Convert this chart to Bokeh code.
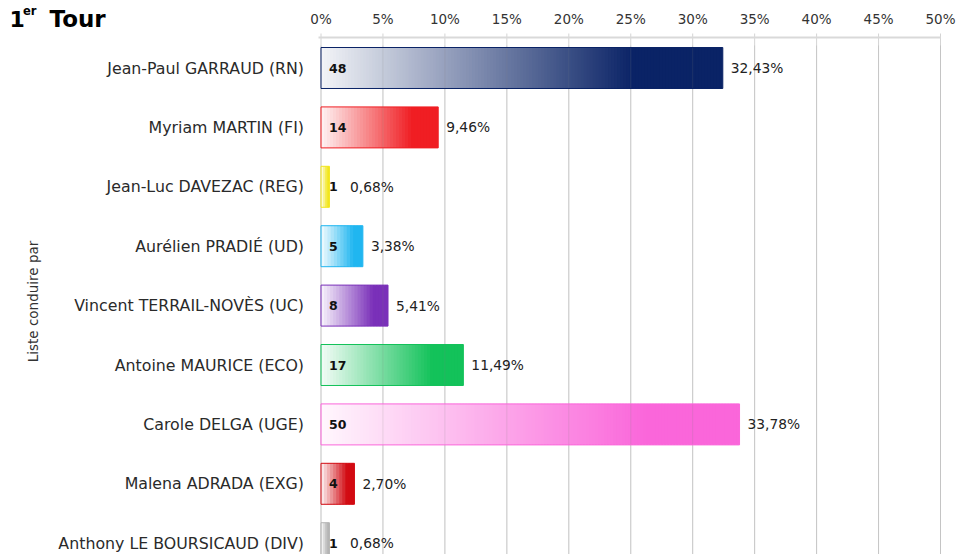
import math
from bokeh.plotting import figure
from bokeh.models import Range1d, ColumnDataSource
from bokeh.core.properties import value
from bokeh.embed import file_html
from bokeh.resources import INLINE

# ---------------- data ----------------
candidates = [
    "Jean-Paul GARRAUD (RN)",
    "Myriam MARTIN (FI)",
    "Jean-Luc DAVEZAC (REG)",
    "Aurélien PRADIÉ (UD)",
    "Vincent TERRAIL-NOVÈS (UC)",
    "Antoine MAURICE (ECO)",
    "Carole DELGA (UGE)",
    "Malena ADRADA (EXG)",
    "Anthony LE BOURSICAUD (DIV)",
]
seats = [48, 14, 1, 5, 8, 17, 50, 4, 1]
pct = [32.43, 9.46, 0.68, 3.38, 5.41, 11.49, 33.78, 2.70, 0.68]
pct_labels = ["32,43%", "9,46%", "0,68%", "3,38%", "5,41%", "11,49%", "33,78%", "2,70%", "0,68%"]
axis_ticks = [0, 5, 10, 15, 20, 25, 30, 35, 40, 45, 50]
axis_tick_labels = ["0%", "5%", "10%", "15%", "20%", "25%", "30%", "35%", "40%", "45%", "50%"]
axis_title = "Liste conduire par"
colors = ["#0a2366", "#f01e23", "#f2e61e", "#20b6f0", "#7a30b9",
          "#13c25a", "#fa66da", "#d20a12", "#b4b4b4"]

FONT = "DejaVu Sans"

# ---------------- geometry (pixel layout -> data space) ----------------
W, H = 971, 554
X0_PX, PX_PER_PCT = 320.5, 12.39      # where 0 % sits, pixels per %
ROW0_PX, ROW_STEP = 67.5, 59.4        # centre of first row, row pitch

def dx(px):
    return (px - X0_PX) / PX_PER_PCT

def dy(py):
    return (py - ROW0_PX) / ROW_STEP

p = figure(width=W, height=H,
           x_range=Range1d(dx(0), dx(W)), y_range=Range1d(dy(H), dy(0)),
           output_backend="svg", toolbar_location=None,
           x_axis_location=None, y_axis_location=None,
           min_border=0, min_border_left=0, min_border_right=0,
           min_border_top=0, min_border_bottom=0)
p.outline_line_color = None
p.background_fill_color = "white"
p.border_fill_color = "white"
p.xgrid.visible = False
p.ygrid.visible = False

n = len(candidates)
rows = list(range(n))
nt = len(axis_ticks)

# ---------------- axis (top) ----------------
p.segment(x0=axis_ticks, x1=axis_ticks, y0=[dy(33)] * nt, y1=[dy(H)] * nt,
          line_color="#d4d4d4", line_width=1)
p.segment(x0=[dx(318)], x1=[axis_ticks[-1]], y0=[dy(37)], y1=[dy(37)],
          line_color="#d9d9d9", line_width=2)
p.text(x=axis_ticks, y=[dy(18)] * nt, text=axis_tick_labels,
       text_align="center", text_baseline="middle",
       text_font=value(FONT), text_font_size="13.5px", text_color="#333333")

# ---------------- gradient bars ----------------
BAR_H = 0.69

def mix(c, t):
    r, g, b = int(c[1:3], 16), int(c[3:5], 16), int(c[5:7], 16)
    r = round(255 + (r - 255) * t)
    g = round(255 + (g - 255) * t)
    b = round(255 + (b - 255) * t)
    return "#%02x%02x%02x" % (r, g, b)

ys, lefts, rights, fills = [], [], [], []
for i, (v, c) in enumerate(zip(pct, colors)):
    N = max(4, int(v * PX_PER_PCT / 3))   # slices about 3 px wide
    w = v / N
    for k in range(N):
        f = (k + 0.5) / N
        t = min(1.0, 0.05 + f / 0.82)
        ys.append(i)
        lefts.append(k * w)
        rights.append(min(v, (k + 1.6) * w))
        fills.append(mix(c, t))

p.hbar(y=ys, left=lefts, right=rights, height=BAR_H, fill_color=fills, fill_alpha=1.0, line_color=None)

# faint grid lines showing through the bars
p.segment(x0=axis_ticks, x1=axis_ticks, y0=[dy(45)] * nt, y1=[dy(H)] * nt,
          line_color="#808080", line_alpha=0.18, line_width=1)

src = ColumnDataSource(dict(
    y=rows,
    v=pct,
    col=colors,
    seat=[str(s) for s in seats],
    lab=pct_labels,
    labx=[max(v, 1.7) for v in pct],
    zero=[0] * n,
    name=candidates,
))
p.hbar(y="y", left=0, right="v", height=BAR_H, fill_alpha=0, line_color="col", line_width=1, source=src)

p.text(x="zero", y="y", text="seat", source=src, x_offset=8,
       text_baseline="middle", text_align="left",
       text_font=value(FONT), text_font_size="12.5px", text_font_style="bold", text_color="#111111")
p.text(x="labx", y="y", text="lab", source=src, x_offset=8,
       text_baseline="middle", text_align="left",
       text_font=value(FONT), text_font_size="13.8px", text_color="#222222")

# ---------------- category axis (left) ----------------
p.text(x="zero", y="y", text="name", source=src, x_offset=-17,
       text_baseline="middle", text_align="right",
       text_font=value(FONT), text_font_size="15.8px", text_color="#2a2a2a")
p.text(x=[dx(32)], y=[dy(301)], text=[axis_title], angle=math.pi / 2,
       text_baseline="middle", text_align="center",
       text_font=value(FONT), text_font_size="13.5px", text_color="#333333")

# ---------------- title ----------------
p.text(x=[dx(9)], y=[dy(18)], text=["1"], text_baseline="alphabetic", text_align="left",
       text_font=value(FONT), text_font_size="22px", text_font_style="bold", text_color="#000000")
p.text(x=[dx(22.5)], y=[dy(10)], text=["er"], text_baseline="alphabetic", text_align="left",
       text_font=value(FONT), text_font_size="11.5px", text_font_style="bold", text_color="#000000")
p.text(x=[dx(49)], y=[dy(18)], text=["Tour"], text_baseline="alphabetic", text_align="left",
       text_font=value(FONT), text_font_size="23px", text_font_style="bold", text_color="#000000")

open("out.html", "w").write(file_html(p, INLINE))
